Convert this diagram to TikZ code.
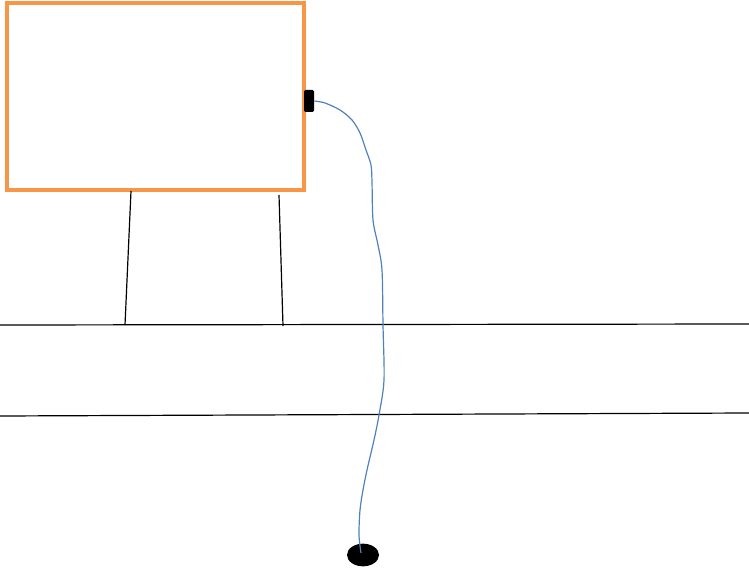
\documentclass[tikz,border=0pt]{standalone}
\usepackage{tikz}
\usetikzlibrary{shapes.geometric}
\definecolor{frameorange}{RGB}{247,150,70}
\definecolor{cableblue}{RGB}{79,129,189}

\begin{document}
\begin{tikzpicture}[x=0.75pt, y=-0.75pt]
\useasboundingbox (0,0) rectangle (749,570);

% screen
\draw[frameorange, line width=2.4pt] (7,3) rectangle (304,190);
\coordinate (legLtop) at (131,191);
\coordinate (legRtop) at (279,195);

% table edges
\coordinate (topL) at (0,325);
\coordinate (topR) at (749,324);
\coordinate (botL) at (0,416);
\coordinate (botR) at (749,413);
\coordinate (legLbot) at (125,325);
\coordinate (legRbot) at (283,326);

\draw[line width=0.9pt] (topL) -- (topR);
\draw[line width=0.9pt] (botL) -- (botR);
\draw[line width=0.9pt] (legLtop) -- (legLbot);
\draw[line width=0.9pt] (legRtop) -- (legRbot);

% plug and weight
\node[fill=black, rounded corners=1pt, inner sep=0pt, minimum width=7.5pt, minimum height=16.5pt] (plug) at (309,101) {};
\node[fill=black, ellipse, inner sep=0pt, minimum width=24pt, minimum height=17pt] (bead) at (363,555) {};

\draw[cableblue, line width=0.9pt] plot[smooth, tension=0.5] coordinates {(plug.east) (325,103) (340,110) (352,120) (360,133) (366,150) (371,165) (372,182) (373,220) (378,245) (382,270) (383,325) (384,380) (379,415) (374,440) (367,470) (363,490) (360,510) (359,535) (361,553)};
\end{tikzpicture}
\end{document}
